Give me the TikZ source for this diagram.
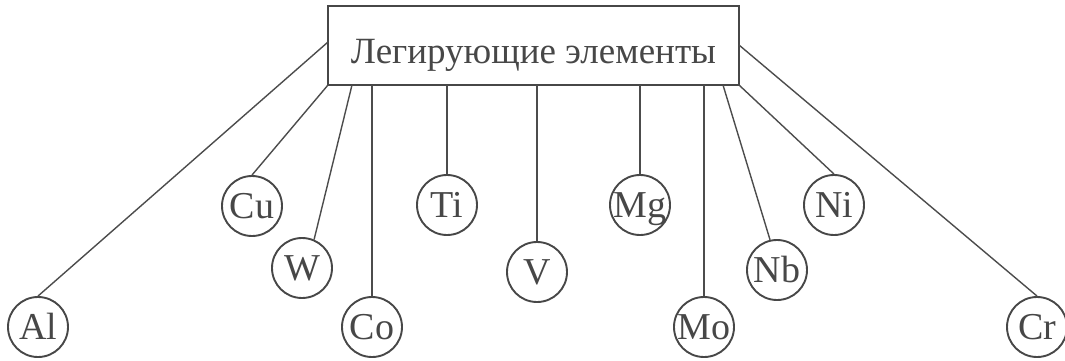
\documentclass[tikz,border=0pt]{standalone}
\usepackage{fontspec}
\setmainfont{Liberation Serif}
\begin{document}
\begin{tikzpicture}[x=1pt,y=-1pt,
  ink/.style={draw=black!72,line width=1.9pt},
  el/.style={ink,circle,minimum size=60pt,inner sep=0pt,font=\fontsize{38}{40}\selectfont,
    text=black!72,text height=25pt,text depth=0pt},
  conn/.style={draw=black!70,line width=1.4pt}]
\useasboundingbox (0,0) rectangle (1065,360);
\node[ink,rectangle,minimum width=411pt,minimum height=79pt,inner sep=0pt,
  font=\fontsize{37}{40}\selectfont,text=black!72,text height=35pt,text depth=0pt] (box) at (533.5,45.5) {Легирующие элементы};
\node[el] (Al) at (38,327) {Al};
\node[el] (Cu) at (252,206) {Cu};
\node[el] (W) at (302,268) {W};
\node[el] (Co) at (372,327) {Co};
\node[el] (Ti) at (447,205) {Ti};
\node[el] (V) at (537,272) {V};
\node[el] (Mg) at (640,205) {Mg};
\node[el] (Mo) at (704,327) {Mo};
\node[el] (Nb) at (777,270) {Nb};
\node[el] (Ni) at (834,205) {Ni};
\node[el] (Cr) at (1037,327) {Cr};
\coordinate (aAl) at (328,42);
\coordinate (aCu) at (328,85);
\coordinate (aW) at (352,85);
\coordinate (aCo) at (372,85);
\coordinate (aTi) at (447,85);
\coordinate (aV) at (537,85);
\coordinate (aMg) at (640,85);
\coordinate (aMo) at (704,85);
\coordinate (aNb) at (723,85);
\coordinate (aNi) at (739,85);
\coordinate (aCr) at (739,45);
\draw[conn] (aAl) -- (Al.north);
\draw[conn] (aCu) -- (Cu.north);
\draw[conn] (aW) -- (W.67);
\draw[conn] (aCo) -- (Co.north);
\draw[conn] (aTi) -- (Ti.north);
\draw[conn] (aV) -- (V.north);
\draw[conn] (aMg) -- (Mg.north);
\draw[conn] (aMo) -- (Mo.north);
\draw[conn] (aNb) -- (Nb.103);
\draw[conn] (aNi) -- (Ni.north);
\draw[conn] (aCr) -- (Cr.north);
\end{tikzpicture}
\end{document}
